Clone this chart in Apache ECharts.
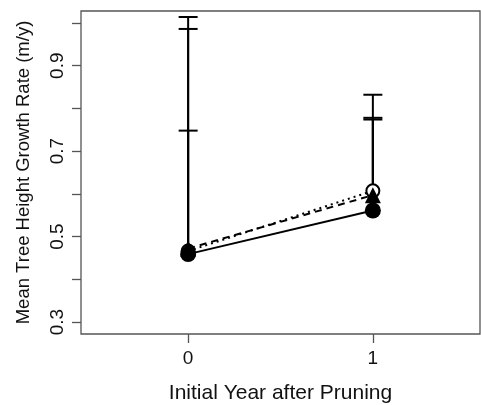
<!DOCTYPE html>
<html>
<head>
<meta charset="utf-8">
<script src="https://cdn.jsdelivr.net/npm/echarts@6/dist/echarts.min.js"></script>
<style>
html,body{margin:0;padding:0;background:#fff;}
#chart{width:481px;height:405px;}
</style>
</head>
<body>
<div id="chart"></div>
<script>
// Data
const years = [0, 1];
const meanFilledCircle = [0.459, 0.561];   // solid line
const meanTriangle     = [0.472, 0.597];   // dashed line
const meanOpenCircle   = [0.466, 0.607];   // dotted line
const upperFilledCircle = [1.014, 0.832];
const upperTriangle     = [0.986, 0.778];
const upperOpenCircle   = [0.748, 0.774];
const xTickValues = [0, 1];
const yTickValues = [0.3, 0.4, 0.5, 0.6, 0.7, 0.8, 0.9, 1.0];
const yLabelValues = [0.3, 0.5, 0.7, 0.9];

const FONT = "'Liberation Sans', Arial, Helvetica, sans-serif";
const chart = echarts.init(document.getElementById('chart'), null, {renderer: 'canvas'});

function pairs(ys) { return years.map((x, i) => [x, ys[i]]); }
function barData(means, uppers) { return years.map((x, i) => [x, means[i], uppers[i]]); }

function errorBarSeries(means, uppers) {
  return {
    type: 'custom',
    data: barData(means, uppers),
    z: 1,
    renderItem: function (params, api) {
      const x = api.value(0);
      const p0 = api.coord([x, api.value(1)]);
      const p1 = api.coord([x, api.value(2)]);
      const hw = 9.5;
      const style = {stroke: '#000', lineWidth: 2, fill: null};
      return {
        type: 'group',
        children: [
          {type: 'line', shape: {x1: p0[0], y1: p0[1], x2: p1[0], y2: p1[1]}, style: style},
          {type: 'line', shape: {x1: p1[0] - hw, y1: p1[1], x2: p1[0] + hw, y2: p1[1]}, style: style}
        ]
      };
    }
  };
}

const option = {
  animation: false,
  backgroundColor: '#fff',
  grid: {
    left: 81, right: 1, top: 11, bottom: 71,
    outerBoundsMode: 'none',
    show: true, borderColor: '#555', borderWidth: 1.3, backgroundColor: 'transparent'
  },
  xAxis: {
    type: 'value',
    min: -0.58, max: 1.58,
    name: 'Initial Year after Pruning',
    nameLocation: 'middle',
    nameGap: 49,
    nameTextStyle: {fontFamily: FONT, fontSize: 21, color: '#111'},
    axisLine: {show: false, onZero: false},
    splitLine: {show: false},
    axisTick: {show: true, customValues: xTickValues, length: 9, inside: false, lineStyle: {color: '#555', width: 1.3}},
    axisLabel: {customValues: xTickValues, fontFamily: FONT, fontSize: 19, color: '#111', margin: 15}
  },
  yAxis: {
    type: 'value',
    min: 0.272, max: 1.028,
    name: 'Mean Tree Height Growth Rate (m/y)',
    nameLocation: 'middle',
    nameGap: 48,
    nameTextStyle: {fontFamily: FONT, fontSize: 18.5, color: '#111'},
    axisLine: {show: false, onZero: false},
    splitLine: {show: false},
    axisTick: {show: true, customValues: yTickValues, length: 9, lineStyle: {color: '#555', width: 1.3}},
    axisLabel: {customValues: yLabelValues, rotate: 90, fontFamily: FONT, fontSize: 19, color: '#111', margin: 14,
      formatter: v => v.toFixed(1)}
  },
  series: [
    errorBarSeries(meanFilledCircle, upperFilledCircle),
    errorBarSeries(meanTriangle, upperTriangle),
    errorBarSeries(meanOpenCircle, upperOpenCircle),
    {
      type: 'line', data: pairs(meanOpenCircle), z: 3,
      symbol: 'circle', symbolSize: 13,
      itemStyle: {color: '#fff', borderColor: '#000', borderWidth: 2},
      lineStyle: {color: '#000', width: 2, type: [2, 4]}
    },
    {
      type: 'line', data: pairs(meanTriangle), z: 4,
      symbol: 'triangle', symbolSize: 16,
      itemStyle: {color: '#000'},
      lineStyle: {color: '#000', width: 2, type: [7, 5]}
    },
    {
      type: 'line', data: pairs(meanFilledCircle), z: 5,
      symbol: 'circle', symbolSize: 16,
      itemStyle: {color: '#000'},
      lineStyle: {color: '#000', width: 2, type: 'solid'}
    }
  ]
};
chart.setOption(option);
</script>
</body>
</html>
